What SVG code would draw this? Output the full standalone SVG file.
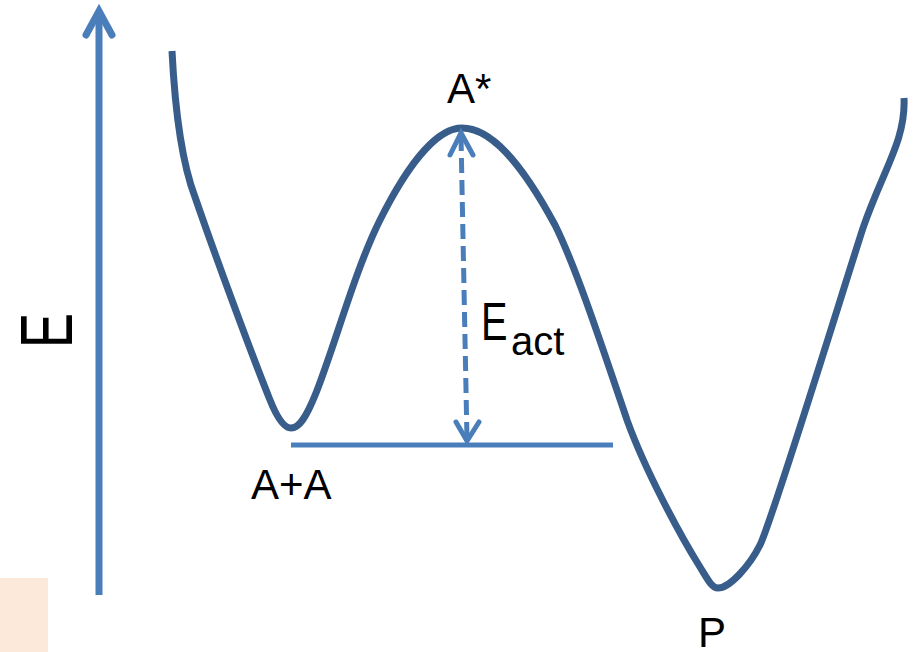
<svg xmlns="http://www.w3.org/2000/svg" width="915" height="652" viewBox="0 0 915 652">
  <style>
    .curve { fill: none; stroke: #385D8A; stroke-width: 7; stroke-linecap: butt; stroke-linejoin: round; }
    .axis { fill: none; stroke: #4A7EBB; stroke-width: 7; }
    .lvl { fill: none; stroke: #4A7EBB; stroke-width: 5; }
    .dash { fill: none; stroke: #4A7EBB; stroke-width: 5; stroke-dasharray: 15 7; }
    .head { fill: none; stroke: #4A7EBB; stroke-width: 5; stroke-linecap: round; stroke-linejoin: miter; }
    .lbl { font-family: "Liberation Sans", Arial, sans-serif; fill: #000000; }
  </style>
  <rect x="0" y="0" width="915" height="652" fill="#FFFFFF"/>
  <rect id="swatch" x="0" y="578" width="48" height="74" fill="#FDE9D9"/>

  <g id="energy-curve">
    <path class="curve" d="M172,51 C175,110 182,163 195,197 C215,255 250,350 270,400 C277,417.5 284,428 291,428 C299,428 306,418 316,393 C335,345 355,270 380,220 C405,170 435,128 462,128 C490,128 520,160 555,225 C575,265 600,340 627,420 C645,470 680,535 700,567 C708,580 712,588 718,588 C730,588 750,565 760,545 C772,521 843,290 863,228 C883,170 906,140 904,98"/>
  </g>

  <g id="connectors">
    <g id="e-axis">
      <line class="axis" x1="99" y1="595" x2="99" y2="14"/>
      <polyline class="axis" points="86,35 99,11 112,35" stroke-linecap="round" stroke-linejoin="miter"/>
    </g>
    <g id="reactant-level">
      <line class="lvl" x1="291" y1="445" x2="613" y2="445"/>
    </g>
    <g id="eact-arrow">
      <line class="dash" x1="461" y1="136" x2="467" y2="440"/>
      <polyline class="head" points="450,155 461,133 473,155"/>
      <polyline class="head" points="456,422 467,441 479,422"/>
    </g>
  </g>

  <g id="label-E">
    <text class="lbl" transform="translate(72,348) rotate(-90) scale(0.7,1)" x="0" y="0" font-size="75">E</text>
  </g>
  <g id="node-Astar">
    <text class="lbl" x="447" y="103" font-size="42">A*</text>
  </g>
  <g id="node-AA">
    <text class="lbl" x="251" y="499" font-size="42">A+A</text>
  </g>
  <g id="node-P">
    <text class="lbl" x="698" y="647" font-size="42">P</text>
  </g>
  <g id="label-Eact">
    <text class="lbl" transform="translate(481,340) scale(0.75,1)" x="0" y="0" font-size="53">E</text>
    <text class="lbl" x="511" y="355" font-size="40">act</text>
  </g>
</svg>
